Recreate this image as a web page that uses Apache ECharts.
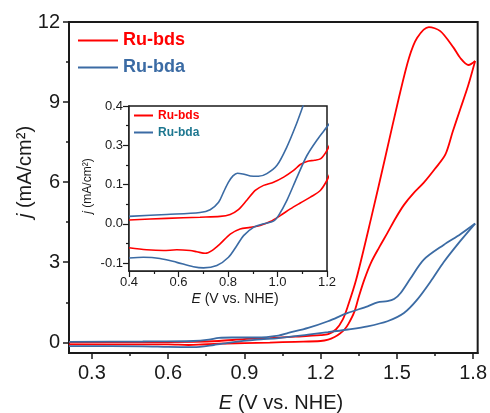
<!DOCTYPE html>
<html>
<head>
<meta charset="utf-8">
<script src="https://cdn.jsdelivr.net/npm/echarts@6/dist/echarts.min.js"></script>
<style>
  html, body { margin: 0; padding: 0; background: #fff; }
  #chart { width: 490px; height: 413px; }
</style>
</head>
<body>
<div id="chart"></div>
<script>
// main panel ticks
var mainXTicks = [0.3, 0.6, 0.9, 1.2, 1.5, 1.8];
var mainXMinor = [0.45, 0.75, 1.05, 1.35, 1.65];
var mainYTicks = [0, 3, 6, 9, 12];
var mainYMinor = [1.5, 4.5, 7.5, 10.5];

// inset ticks (labels as printed on the figure)
var insetXTicks = [0.4, 0.6, 0.8, 1.0, 1.2];
var insetXMinor = [0.5, 0.7, 0.9, 1.1];
var insetYTicks = [-0.1, 0, 0.1, 0.2, 0.3];
var insetYLabels = ['-0.1', '0.0', '0.1', '0.3', '0.4'];
var insetYMinor = [-0.05, 0.05, 0.15, 0.25];

// main CV, [E, j]
var bdsFwd = [[0.21, 0.0], [0.5, 0.01], [0.7, 0.02], [0.8, 0.05], [0.9, 0.12], [1.0, 0.16], [1.1, 0.21],
  [1.2, 0.27], [1.23, 0.31], [1.26, 0.48], [1.287, 0.85], [1.307, 1.35], [1.34, 2.35], [1.4, 4.7],
  [1.456, 7.0], [1.508, 9.16], [1.548, 10.66], [1.58, 11.41], [1.626, 11.81], [1.671, 11.66],
  [1.723, 11.04], [1.749, 10.66], [1.782, 10.39], [1.808, 10.54]];
var bdsRev = [[1.808, 10.54], [1.78, 9.6], [1.75, 8.75], [1.72, 7.9], [1.691, 7.04], [1.65, 6.5],
  [1.606, 5.98], [1.565, 5.58], [1.528, 5.15], [1.495, 4.65], [1.463, 4.1], [1.43, 3.55], [1.398, 2.98],
  [1.372, 2.35], [1.35, 1.7], [1.333, 1.15], [1.31, 0.7], [1.294, 0.48], [1.275, 0.32], [1.255, 0.2],
  [1.23, 0.1], [1.2, 0.05], [1.1, 0.02], [1.0, -0.01], [0.9, -0.03], [0.8, -0.05], [0.72, -0.09],
  [0.68, -0.1], [0.6, -0.08], [0.4, -0.08], [0.21, -0.08]];
var bdaFwd = [[0.21, 0.02], [0.5, 0.03], [0.7, 0.05], [0.76, 0.1], [0.8, 0.17], [0.85, 0.18], [0.95, 0.18],
  [1.034, 0.25], [1.073, 0.35], [1.151, 0.54], [1.229, 0.79], [1.307, 1.1], [1.385, 1.35], [1.424, 1.5],
  [1.463, 1.54], [1.489, 1.62], [1.515, 1.85], [1.554, 2.4], [1.606, 3.1], [1.684, 3.65], [1.75, 4.05],
  [1.808, 4.45]];
var bdaRev = [[1.808, 4.45], [1.75, 3.8], [1.684, 3.0], [1.638, 2.35], [1.58, 1.6], [1.528, 1.1],
  [1.463, 0.79], [1.385, 0.6], [1.307, 0.48], [1.229, 0.38], [1.151, 0.29], [1.034, 0.16], [0.95, 0.1],
  [0.85, 0.0], [0.78, -0.1], [0.7, -0.18], [0.6, -0.17], [0.5, -0.15], [0.21, -0.14]];

// inset CV, [E, j]
var bdsInFwd = [[0.4, 0.01], [0.552, 0.014], [0.687, 0.017], [0.768, 0.019], [0.809, 0.024], [0.842, 0.036],
  [0.876, 0.06], [0.91, 0.085], [0.944, 0.098], [0.984, 0.106], [1.025, 0.119], [1.065, 0.136],
  [1.092, 0.151], [1.119, 0.159], [1.15, 0.162], [1.175, 0.166], [1.2, 0.187], [1.22, 0.215]];
var bdsInRev = [[1.22, 0.14], [1.2, 0.111], [1.173, 0.085], [1.133, 0.068], [1.092, 0.053], [1.052, 0.038],
  [1.011, 0.021], [0.971, 0.006], [0.93, -0.004], [0.89, -0.009], [0.849, -0.013], [0.809, -0.026],
  [0.768, -0.051], [0.735, -0.068], [0.708, -0.075], [0.674, -0.071], [0.647, -0.068], [0.593, -0.066],
  [0.539, -0.068], [0.471, -0.066], [0.4, -0.061]];
var bdaInFwd = [[0.4, 0.019], [0.552, 0.024], [0.687, 0.029], [0.728, 0.036], [0.762, 0.055], [0.782, 0.081],
  [0.802, 0.106], [0.82, 0.122], [0.838, 0.129], [0.86, 0.127], [0.89, 0.122], [0.923, 0.121],
  [0.957, 0.128], [0.998, 0.149], [1.038, 0.196], [1.072, 0.247], [1.103, 0.3], [1.12, 0.33]];
var bdaInRev = [[1.22, 0.264], [1.2, 0.247], [1.159, 0.213], [1.119, 0.174], [1.079, 0.119], [1.038, 0.06],
  [1.004, 0.021], [0.984, 0.007], [0.944, 0.0], [0.903, -0.009], [0.863, -0.03], [0.836, -0.055],
  [0.802, -0.085], [0.755, -0.106], [0.701, -0.112], [0.66, -0.109], [0.593, -0.098], [0.525, -0.088],
  [0.458, -0.085], [0.4, -0.087]];

var RED = '#ff0000';
var BLUE = '#3b6ba4';
var TEAL = '#1d7790';
var INK = '#1a1a1a';
var FONT = '"Liberation Sans", Arial, sans-serif';

function axisX(grid, min, max, ticks, minor, size, fmt, isMinor) {
  return {
    type: 'value', gridIndex: grid, min: min, max: max, position: 'bottom',
    axisLine: { show: !isMinor, onZero: false, lineStyle: { color: INK, width: grid === 0 ? 2 : 1.5 } },
    axisTick: { show: true, customValues: isMinor ? minor : ticks, length: isMinor ? 3 : 6,
      lineStyle: { color: INK, width: grid === 0 ? 1.5 : 1.2 } },
    axisLabel: { show: !isMinor, customValues: ticks, color: INK, fontFamily: FONT, fontSize: size,
      margin: grid === 0 ? 10 : 5, formatter: fmt },
    splitLine: { show: false }
  };
}
function axisY(grid, min, max, ticks, minor, size, fmt, isMinor) {
  var a = axisX(grid, min, max, ticks, minor, size, fmt, isMinor);
  a.position = 'left';
  a.axisLabel.margin = grid === 0 ? 9 : 6;
  return a;
}

var chart = echarts.init(document.getElementById('chart'), null, { renderer: 'canvas' });

function line(name, data, color, xi, yi, w) {
  return {
    name: name, type: 'line', data: data, xAxisIndex: xi, yAxisIndex: yi,
    smooth: 0.3, symbol: 'none', clip: true,
    lineStyle: { color: color, width: w }, itemStyle: { color: color }
  };
}

var option = {
  animation: false,
  backgroundColor: '#fff',
  grid: [
    { left: 69, top: 22, right: 9, bottom: 60, show: true, borderColor: INK, borderWidth: 2 },
    { left: 129, top: 106, right: 163, bottom: 142, show: true, borderColor: INK, borderWidth: 1.5,
      backgroundColor: '#fff', z: 3 }
  ],
  xAxis: [
    axisX(0, 0.21, 1.818, mainXTicks, mainXMinor, 20, function (v) { return v.toFixed(1); }, false),
    axisX(0, 0.21, 1.818, mainXTicks, mainXMinor, 20, null, true),
    axisX(1, 0.4, 1.2, insetXTicks, insetXMinor, 13, function (v) { return v.toFixed(1); }, false),
    axisX(1, 0.4, 1.2, insetXTicks, insetXMinor, 13, null, true)
  ],
  yAxis: [
    axisY(0, -0.4, 12, mainYTicks, mainYMinor, 20, function (v) { return String(v); }, false),
    axisY(0, -0.4, 12, mainYTicks, mainYMinor, 20, null, true),
    axisY(1, -0.12, 0.3, insetYTicks, insetYMinor, 13, function (v) {
      var i = insetYTicks.indexOf(v);
      return i >= 0 ? insetYLabels[i] : '';
    }, false),
    axisY(1, -0.12, 0.3, insetYTicks, insetYMinor, 13, null, true)
  ],
  legend: [
    {
      left: 78, top: 30, orient: 'vertical', padding: 0, itemGap: 6, itemWidth: 40, itemHeight: 2,
      icon: 'rect',
      textStyle: { fontFamily: FONT, fontSize: 18, fontWeight: 'bold', lineHeight: 21 },
      data: [
        { name: 'Ru-bds', textStyle: { color: RED } },
        { name: 'Ru-bda', textStyle: { color: BLUE } }
      ]
    },
    {
      left: 134, top: 108, orient: 'vertical', padding: 0, itemGap: 2, itemWidth: 19, itemHeight: 2,
      icon: 'rect',
      textStyle: { fontFamily: FONT, fontSize: 12, fontWeight: 'bold', lineHeight: 15 },
      data: [
        { name: 'Ru-bds', textStyle: { color: RED } },
        { name: 'Ru-bda', textStyle: { color: TEAL } }
      ]
    }
  ],
  graphic: [
    {
      type: 'text', x: 25, y: 172, rotation: Math.PI / 2, z: 10,
      style: {
        text: '{i|j} (mA/cm²)', fill: INK, font: '20px ' + FONT, align: 'center', verticalAlign: 'middle',
        rich: { i: { fontStyle: 'italic', fontSize: 20, fontFamily: FONT, fill: INK } }
      }
    },
    {
      type: 'text', x: 281, y: 403, z: 10,
      style: {
        text: '{i|E} (V vs. NHE)', fill: INK, font: '20px ' + FONT, align: 'center', verticalAlign: 'middle',
        rich: { i: { fontStyle: 'italic', fontSize: 20, fontFamily: FONT, fill: INK } }
      }
    },
    {
      type: 'text', x: 88, y: 186, rotation: Math.PI / 2, z: 10,
      style: {
        text: '{i|j} (mA/cm²)', fill: INK, font: '12px ' + FONT, align: 'center', verticalAlign: 'middle',
        rich: { i: { fontStyle: 'italic', fontSize: 12, fontFamily: FONT, fill: INK } }
      }
    },
    {
      type: 'text', x: 235, y: 299, z: 10,
      style: {
        text: '{i|E} (V vs. NHE)', fill: INK, font: '14px ' + FONT, align: 'center', verticalAlign: 'middle',
        rich: { i: { fontStyle: 'italic', fontSize: 14, fontFamily: FONT, fill: INK } }
      }
    }
  ],
  series: [
    line('Ru-bds', bdsFwd, RED, 0, 0, 1.8),
    line('Ru-bds', bdsRev, RED, 0, 0, 1.8),
    line('Ru-bda', bdaFwd, BLUE, 0, 0, 1.8),
    line('Ru-bda', bdaRev, BLUE, 0, 0, 1.8),
    line('Ru-bds', bdsInFwd, RED, 2, 2, 1.6),
    line('Ru-bds', bdsInRev, RED, 2, 2, 1.6),
    line('Ru-bda', bdaInFwd, BLUE, 2, 2, 1.6),
    line('Ru-bda', bdaInRev, BLUE, 2, 2, 1.6)
  ]
};

chart.setOption(option);
</script>
</body>
</html>
